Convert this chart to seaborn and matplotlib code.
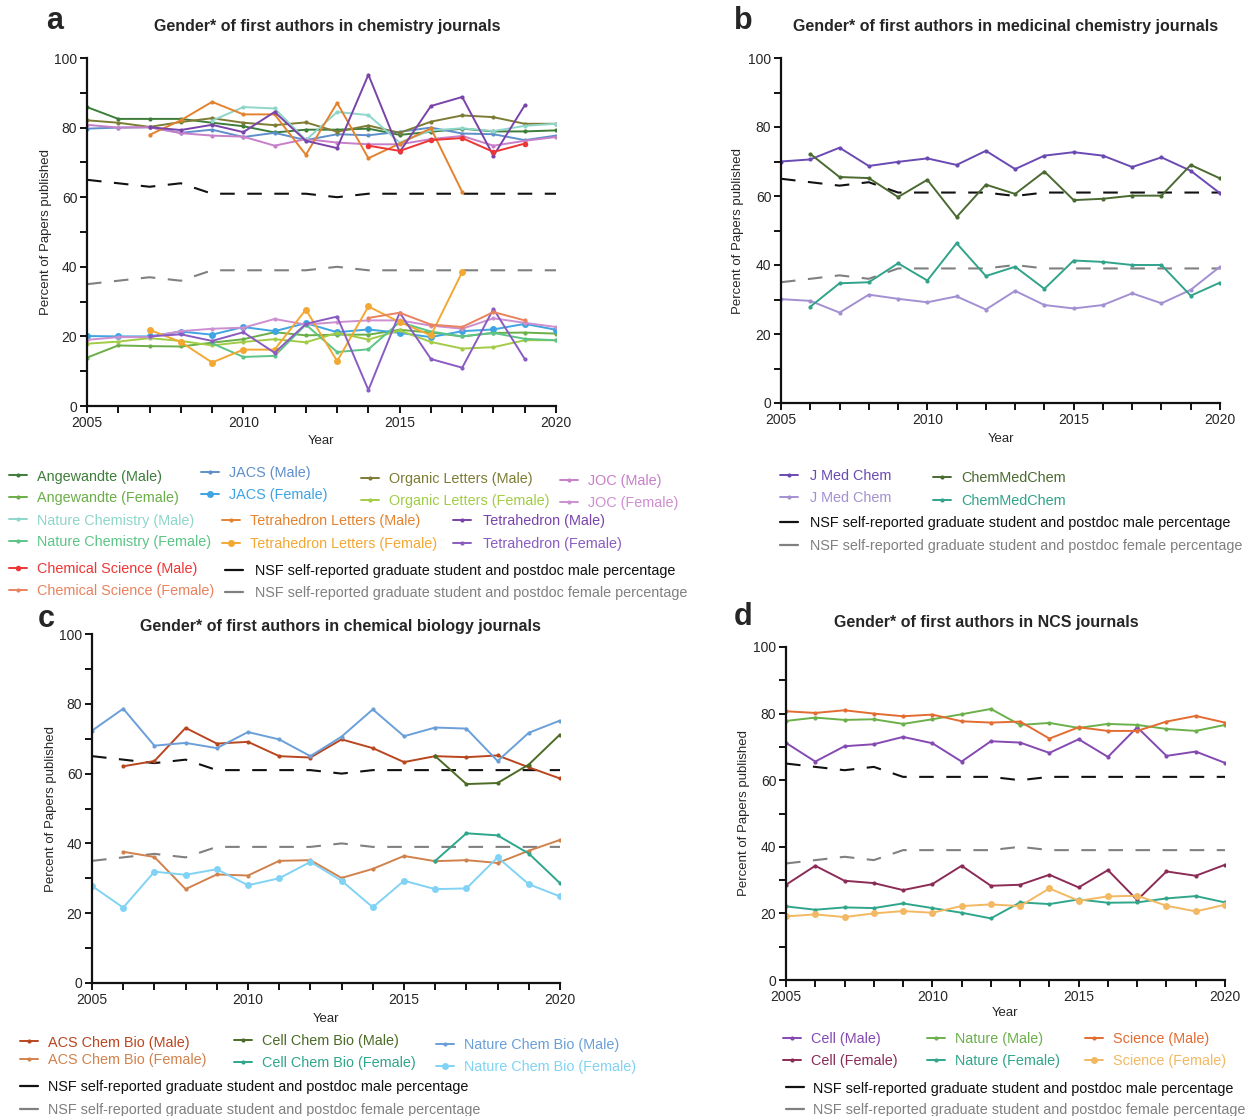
import numpy as np
import pandas as pd
import matplotlib
matplotlib.use("Agg")
import matplotlib.pyplot as plt
import seaborn as sns
from matplotlib.lines import Line2D
from matplotlib.ticker import MultipleLocator

sns.set_theme(style="white")
plt.rcParams["font.family"] = ["Liberation Sans", "DejaVu Sans"]

W, H = 1251, 1116
N = np.nan
years = list(range(2005, 2021))

# NSF reference percentages
nsf_male = [65, 64, 63, 64, 61, 61, 61, 61, 60, 61, 61, 61, 61, 61, 61, 61]
nsf_female = [35, 36, 37, 36, 39, 39, 39, 39, 40, 39, 39, 39, 39, 39, 39, 39]

# Panel a: chemistry journals
angew_m = [85.9, 82.5, 82.5, 82.5, 81.4, 80.4, 78.6, 79.4, 79.4, 79.7, 77.9, 78.8, 79.7, 78.9, 78.9, 79.2]
angew_f = [13.9, 17.4, 17.2, 17.1, 18.2, 19.2, 21.2, 20.3, 20.5, 20.5, 21.9, 21.1, 20.0, 21.0, 21.1, 20.8]
jacs_m = [79.7, 80.0, 80.1, 78.5, 79.4, 77.3, 78.5, 76.4, 78.1, 77.8, 78.8, 80.0, 78.3, 78.1, 76.4, 77.7]
jacs_f = [20.1, 20.0, 20.0, 21.4, 20.5, 22.7, 21.5, 23.8, 21.2, 22.0, 21.0, 19.8, 21.5, 22.0, 23.6, 21.9]
orgl_m = [82.1, 81.4, 80.2, 81.6, 82.7, 81.4, 80.7, 81.5, 78.8, 80.6, 78.5, 81.7, 83.5, 83.0, 81.1, 81.1]
orgl_f = [17.9, 18.5, 19.5, 18.7, 17.4, 18.4, 19.2, 18.3, 21.0, 19.1, 21.7, 18.4, 16.5, 16.9, 18.9, 18.9]
joc_m = [80.8, 80.0, 80.1, 78.4, 77.7, 77.4, 74.8, 76.7, 75.7, 75.2, 75.2, 76.7, 77.6, 74.8, 76.2, 77.3]
joc_f = [19.0, 19.8, 19.8, 21.5, 22.2, 22.5, 25.0, 23.4, 24.1, 24.6, 24.6, 23.1, 22.2, 25.2, 23.9, 22.7]
natchem_m = [N, N, N, N, 82.0, 85.9, 85.5, 76.4, 84.5, 83.6, 75.7, 79.2, 79.8, 79.0, 80.5, 81.1]
natchem_f = [N, N, N, N, 18.0, 14.1, 14.4, 23.4, 15.5, 16.3, 24.1, 21.4, 20.0, 21.0, 19.3, 18.9]
tetl_m = [N, N, 77.9, 82.1, 87.4, 83.8, 83.8, 72.2, 87.1, 71.2, 75.4, 79.8, 61.5, N, N, N]
tetl_f = [N, N, 21.9, 18.4, 12.5, 16.2, 16.2, 27.7, 12.9, 28.6, 24.1, 20.3, 38.5, N, N, N]
tet_m = [N, N, 80.1, 79.3, 80.8, 78.7, 84.5, 76.2, 74.1, 95.2, 73.0, 86.2, 88.8, 71.9, 86.4, N]
tet_f = [N, N, 20.0, 20.6, 18.7, 21.2, 15.3, 23.6, 25.7, 4.6, 26.8, 13.5, 11.0, 27.9, 13.5, N]
chemsci_m = [N, N, N, N, N, N, N, N, N, 74.8, 73.3, 76.4, 77.0, 73.0, 75.4, N]
chemsci_f = [N, N, N, N, N, N, N, N, N, 25.3, 26.8, 23.4, 22.7, 27.0, 24.6, N]

# Panel b: medicinal chemistry journals
jmc_m = [70.0, 70.6, 74.0, 68.7, 69.9, 70.9, 69.0, 73.1, 67.8, 71.7, 72.7, 71.7, 68.4, 71.2, 67.3, 60.8]
jmc_f = [30.1, 29.6, 26.2, 31.4, 30.2, 29.2, 30.9, 27.1, 32.5, 28.4, 27.4, 28.4, 31.8, 28.9, 32.8, 39.5]
cmc_m = [N, 72.2, 65.5, 65.2, 59.7, 64.7, 53.9, 63.3, 60.6, 67.1, 58.8, 59.2, 60.1, 60.1, 69.0, 65.1]
cmc_f = [N, 27.9, 34.7, 35.0, 40.5, 35.5, 46.3, 36.8, 39.5, 33.1, 41.3, 40.9, 40.0, 40.0, 31.1, 34.9]

# Panel c: chemical biology journals
acs_m = [N, 62.1, 63.6, 73.1, 68.6, 69.1, 65.0, 64.6, 69.8, 67.3, 63.3, 65.0, 64.7, 65.2, 61.8, 58.6]
acs_f = [N, 37.6, 36.1, 26.9, 31.1, 30.8, 35.0, 35.2, 30.1, 32.7, 36.4, 34.9, 35.2, 34.4, 37.9, 41.0]
ccb_m = [N, N, N, N, N, N, N, N, N, N, N, 65.0, 57.0, 57.3, 62.6, 71.2]
ccb_f = [N, N, N, N, N, N, N, N, N, N, N, 35.0, 42.9, 42.3, 37.1, 28.6]
ncb_m = [72.3, 78.6, 68.0, 68.8, 67.3, 71.9, 69.8, 65.0, 70.6, 78.4, 70.7, 73.2, 72.9, 63.6, 71.7, 75.2]
ncb_f = [27.8, 21.6, 31.9, 31.0, 32.6, 28.0, 30.0, 34.7, 29.3, 21.7, 29.3, 26.9, 27.1, 36.0, 28.3, 24.8]

# Panel d: NCS journals
cell_m = [71.2, 65.6, 70.2, 70.8, 73.0, 71.1, 65.6, 71.7, 71.3, 68.2, 72.3, 67.0, 75.9, 67.3, 68.6, 65.2]
cell_f = [28.6, 34.3, 29.8, 29.1, 27.0, 28.8, 34.3, 28.3, 28.6, 31.6, 27.8, 33.0, 24.0, 32.6, 31.3, 34.6]
nat_m = [77.8, 78.8, 78.1, 78.3, 76.9, 78.3, 79.8, 81.4, 76.6, 77.2, 75.7, 76.9, 76.6, 75.4, 74.8, 76.6]
nat_f = [22.1, 21.1, 21.8, 21.6, 23.0, 21.6, 20.2, 18.5, 23.3, 22.8, 24.2, 23.2, 23.3, 24.5, 25.2, 23.3]
sci_m = [80.7, 80.2, 81.0, 80.0, 79.2, 79.7, 77.7, 77.3, 77.6, 72.5, 75.9, 74.8, 74.8, 77.6, 79.3, 77.3]
sci_f = [19.1, 19.7, 18.9, 20.0, 20.7, 20.2, 22.2, 22.7, 22.2, 27.5, 23.8, 25.1, 25.3, 22.3, 20.6, 22.6]

NSF_M = "NSF self-reported graduate student and postdoc male percentage"
NSF_F = "NSF self-reported graduate student and postdoc female percentage"

# label -> (values, color, markersize)
panel_a = [
    ("Angewandte (Male)", angew_m, "#3d7d3a", 3),
    ("Angewandte (Female)", angew_f, "#6aae48", 3),
    ("JACS (Male)", jacs_m, "#5f8fca", 3),
    ("JACS (Female)", jacs_f, "#3ea4e2", 5),
    ("Organic Letters (Male)", orgl_m, "#7d7c35", 3),
    ("Organic Letters (Female)", orgl_f, "#a2cc45", 3),
    ("JOC (Male)", joc_m, "#c67fc8", 3),
    ("JOC (Female)", joc_f, "#cc8fcf", 3),
    ("Nature Chemistry (Male)", natchem_m, "#8fd6ca", 3),
    ("Nature Chemistry (Female)", natchem_f, "#5cc486", 3),
    ("Tetrahedron Letters (Male)", tetl_m, "#e4832f", 3),
    ("Tetrahedron Letters (Female)", tetl_f, "#f2a833", 5),
    ("Tetrahedron (Male)", tet_m, "#7a43aa", 3),
    ("Tetrahedron (Female)", tet_f, "#8a5cc2", 3),
    ("Chemical Science (Male)", chemsci_m, "#ee3535", 4),
    ("Chemical Science (Female)", chemsci_f, "#e8825f", 3),
]
panel_b = [
    ("J Med Chem", jmc_m, "#6a4ab2", 3),
    ("J Med Chem ", jmc_f, "#a390d2", 3),
    ("ChemMedChem", cmc_m, "#4b6a32", 3),
    ("ChemMedChem ", cmc_f, "#30a38a", 3),
]
panel_c = [
    ("ACS Chem Bio (Male)", acs_m, "#b8461f", 3),
    ("ACS Chem Bio (Female)", acs_f, "#d1824c", 3),
    ("Cell Chem Bio (Male)", ccb_m, "#4b6b26", 3),
    ("Cell Chem Bio (Female)", ccb_f, "#2ea68b", 3),
    ("Nature Chem Bio (Male)", ncb_m, "#6a9fd9", 3),
    ("Nature Chem Bio (Female)", ncb_f, "#80d3f5", 5),
]
panel_d = [
    ("Cell (Male)", cell_m, "#8549b2", 3),
    ("Cell (Female)", cell_f, "#8b2b56", 3),
    ("Nature (Male)", nat_m, "#6bb04b", 3),
    ("Nature (Female)", nat_f, "#2fa68a", 3),
    ("Science (Male)", sci_m, "#e26c31", 3),
    ("Science (Female)", sci_f, "#f2b862", 5),
]
style = {name: (col, ms) for name, _, col, ms in panel_a + panel_b + panel_c + panel_d}
style[NSF_M] = ("#111111", 0)
style[NSF_F] = ("#808080", 0)

fig = plt.figure(figsize=(W / 100, H / 100), dpi=100)


def make_ax(l, t, r, b):
    return fig.add_axes([l / W, 1 - b / H, (r - l) / W, (b - t) / H])


def draw(ax, series, title, tcx, ty, letter, lx, ly, ylab_x, xlab_y, box):
    l, t, r, b = box
    rows = []
    for name, vals, col, ms in series:
        for yr, v in zip(years, vals):
            rows.append((yr, v, name))
    for yr, m, f in zip(years, nsf_male, nsf_female):
        rows.append((yr, m, NSF_M))
        rows.append((yr, f, NSF_F))
    df = pd.DataFrame(rows, columns=["Year", "Percent", "Series"]).dropna()
    for nm in [NSF_M, NSF_F]:
        sub = df[df.Series == nm]
        sns.lineplot(data=sub, x="Year", y="Percent", ax=ax, color=style[nm][0],
                     lw=1.5, linestyle=(0, (7, 6)), estimator=None, legend=False)
    for name, vals, col, ms in series:
        sub = df[df.Series == name]
        sns.lineplot(data=sub, x="Year", y="Percent", ax=ax, color=col, lw=1.4,
                     marker="o", markersize=ms, markeredgewidth=0,
                     estimator=None, legend=False)
    ax.set_xlim(2005, 2020)
    ax.set_ylim(0, 100)
    ax.xaxis.set_major_locator(MultipleLocator(5))
    ax.xaxis.set_minor_locator(MultipleLocator(1))
    ax.yaxis.set_major_locator(MultipleLocator(20))
    ax.yaxis.set_minor_locator(MultipleLocator(10))
    for s in ["top", "right"]:
        ax.spines[s].set_visible(False)
    for s in ["left", "bottom"]:
        ax.spines[s].set_linewidth(1.6)
        ax.spines[s].set_color("#111111")
    ax.tick_params(which="both", direction="out", length=5, width=1.4,
                   color="#111111", labelsize=10, pad=2, left=True, bottom=True)
    ax.set_xlabel("")
    ax.set_ylabel("")
    ax.grid(False)
    fig.text(tcx / W, 1 - ty / H, title, ha="center", va="center",
             fontsize=11.5, fontweight="bold")
    fig.text(lx / W, 1 - ly / H, letter, ha="center", va="center",
             fontsize=22, fontweight="bold")
    fig.text(ylab_x / W, 1 - ((t + b) / 2) / H, "Percent of Papers published",
             rotation=90, ha="center", va="center", fontsize=9.5)
    fig.text(((l + r) / 2) / W, 1 - xlab_y / H, "Year", ha="center",
             va="center", fontsize=9.5)


FS = 10.4
FPX = FS * 100 / 72


def legend_block(names, x, y, dy, hl_px=18, gap_px=10):
    handles = []
    for nm in names:
        col, ms = style[nm]
        if ms > 0:
            handles.append(Line2D([], [], color=col, lw=1.4, marker="o",
                                  markersize=ms, markeredgewidth=0))
        else:
            handles.append(Line2D([], [], color=col, lw=1.6))
    leg = fig.legend(handles, [n.strip() for n in names], loc="upper left",
                     bbox_to_anchor=(x / W, 1 - (y - 6.5) / H),
                     frameon=False, borderpad=0, borderaxespad=0,
                     handlelength=hl_px / FPX, handletextpad=gap_px / FPX,
                     labelspacing=(dy - FPX * 0.95) / FPX, fontsize=FS,
                     numpoints=1)
    for txt, nm in zip(leg.get_texts(), names):
        txt.set_color(style[nm][0])
    return leg


box_a = (87, 58, 556, 406)
box_b = (781, 58, 1220, 403)
box_c = (92, 634, 560, 983)
box_d = (786, 647, 1225, 980)

ax_a = make_ax(*box_a)
draw(ax_a, panel_a, "Gender* of first authors in chemistry journals", 327, 27,
     "a", 55, 21, 46, 441, box_a)
ax_b = make_ax(*box_b)
draw(ax_b, panel_b, "Gender* of first authors in medicinal chemistry journals",
     1006, 27, "b", 743, 21, 738, 439, box_b)
ax_c = make_ax(*box_c)
draw(ax_c, panel_c, "Gender* of first authors in chemical biology journals",
     340, 626, "c", 46, 619, 51, 1019, box_c)
ax_d = make_ax(*box_d)
draw(ax_d, panel_d, "Gender* of first authors in NCS journals", 986, 622,
     "d", 743, 617, 744, 1013, box_d)

# legends panel a
legend_block(["Angewandte (Male)", "Angewandte (Female)"], 9, 476, 21)
legend_block(["Nature Chemistry (Male)", "Nature Chemistry (Female)"], 9, 520, 21)
legend_block(["Chemical Science (Male)", "Chemical Science (Female)"], 9, 569, 21)
legend_block(["JACS (Male)", "JACS (Female)"], 201, 473, 21)
legend_block(["Tetrahedron Letters (Male)", "Tetrahedron Letters (Female)"], 222, 521, 22)
legend_block([NSF_M, NSF_F], 225, 571, 21, gap_px=12)
legend_block(["Organic Letters (Male)", "Organic Letters (Female)"], 361, 479, 21)
legend_block(["Tetrahedron (Male)", "Tetrahedron (Female)"], 453, 521, 22, gap_px=12)
legend_block(["JOC (Male)", "JOC (Female)"], 560, 481, 21)
# legends panel b
legend_block(["J Med Chem", "J Med Chem "], 780, 476, 21, gap_px=12)
legend_block(["ChemMedChem", "ChemMedChem "], 933, 478, 22)
legend_block([NSF_M, NSF_F], 780, 523, 22, gap_px=12)
# legends panel c
legend_block(["ACS Chem Bio (Male)", "ACS Chem Bio (Female)"], 20, 1042, 17)
legend_block(["Cell Chem Bio (Male)", "Cell Chem Bio (Female)"], 234, 1041, 21)
legend_block(["Nature Chem Bio (Male)", "Nature Chem Bio (Female)"], 436, 1045, 21)
legend_block([NSF_M, NSF_F], 20, 1087, 22)
# legends panel d
legend_block(["Cell (Male)", "Cell (Female)"], 783, 1039, 21)
legend_block(["Nature (Male)", "Nature (Female)"], 927, 1039, 21)
legend_block(["Science (Male)", "Science (Female)"], 1085, 1039, 21)
legend_block([NSF_M, NSF_F], 786, 1088, 21, gap_px=9)

fig.savefig("out.png", dpi=100)
